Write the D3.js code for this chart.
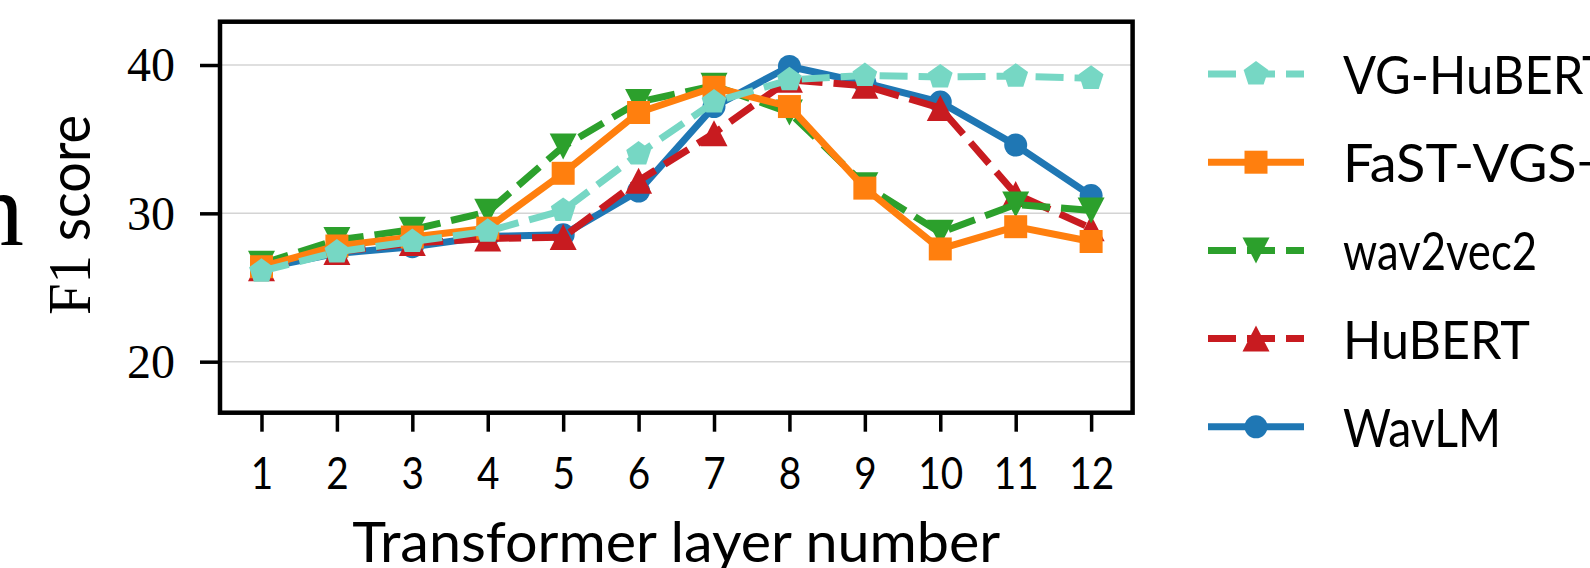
<!DOCTYPE html>
<html>
<head>
<meta charset="utf-8">
<script src="https://cdn.jsdelivr.net/npm/d3@7"></script>
<style>
  html, body { margin: 0; padding: 0; background: #fff; }
  svg { display: block; }
</style>
</head>
<body>
<svg id="chart" width="1590" height="568"></svg>
<script>
// layer-wise F1 scores
var layers = [1, 2, 3, 4, 5, 6, 7, 8, 9, 10, 11, 12];

var vgHubert = [26.1, 27.4, 28.1, 28.8, 30.2, 34.0, 37.5, 39.0, 39.3, 39.2, 39.25, 39.1];
var fastVgs  = [26.4, 27.8, 28.4, 29.0, 32.7, 36.8, 38.5, 37.2, 31.7, 27.6, 29.1, 28.1];
var wav2vec2 = [26.6, 28.2, 28.9, 30.1, 34.5, 37.5, 38.6, 36.8, 31.9, 28.7, 30.6, 30.2];
var hubert   = [26.3, 27.4, 28.0, 28.3, 28.4, 32.2, 35.4, 39.0, 38.6, 37.1, 31.3, 29.0];
var wavlm    = [26.3, 27.3, 27.75, 28.45, 28.55, 31.5, 37.2, 39.9, 38.8, 37.5, 34.6, 31.2];

var yTicks = [20, 30, 40];

// legend order (top to bottom); drawn in reverse so VG-HuBERT ends up on top
var series = [
  { name: "VG-HuBERT", values: vgHubert, color: "#76d7c4", dashed: true,  marker: "pentagon", w: 268 },
  { name: "FaST-VGS+", values: fastVgs,  color: "#ff7f0e", dashed: false, marker: "square",   w: 265 },
  { name: "wav2vec2",  values: wav2vec2, color: "#2ca02c", dashed: true,  marker: "down",     w: 194 },
  { name: "HuBERT",    values: hubert,   color: "#c81b20", dashed: true,  marker: "up",       w: 187 },
  { name: "WavLM",     values: wavlm,    color: "#1f77b4", dashed: false, marker: "circle",   w: 158 }
];

var LEFT = 220, RIGHT = 1132.6, TOP = 21.7, BOTTOM = 412.7;
var LINE_W = 7;
var DASH = "28,11";
var SANS = "Lato, 'Open Sans', sans-serif";
var SERIF = "'Liberation Serif', 'DejaVu Serif', serif";

var svg = d3.select("#chart");

var x = d3.scaleLinear().domain([0.45, 12.55]).range([LEFT, RIGHT]);
var y = d3.scaleLinear().domain([16.56, 42.92]).range([BOTTOM, TOP]);

// marker path centred on its bounding box, like matplotlib
var markerPath = function (kind) {
  var p = d3.path();
  if (kind === "circle") {
    p.arc(0, 0, 11.5, 0, 2 * Math.PI);
  } else if (kind === "square") {
    p.rect(-11.5, -11.5, 23, 23);
  } else if (kind === "up") {
    p.moveTo(0, -13); p.lineTo(13.5, 13); p.lineTo(-13.5, 13); p.closePath();
  } else if (kind === "down") {
    p.moveTo(0, 13); p.lineTo(13.5, -13); p.lineTo(-13.5, -13); p.closePath();
  } else if (kind === "pentagon") {
    for (var k = 0; k < 5; k++) {
      var a = -Math.PI / 2 + k * 2 * Math.PI / 5;
      var px = 13 * Math.cos(a), py = 13 * Math.sin(a);
      if (k === 0) p.moveTo(px, py); else p.lineTo(px, py);
    }
    p.closePath();
  }
  return p.toString();
};

// squeeze a text horizontally (computer modern sans digits are narrower than Lato)
var squeeze = function (sel, k) {
  sel.each(function () {
    var w = this.getComputedTextLength();
    d3.select(this).attr("textLength", w * k).attr("lengthAdjust", "spacingAndGlyphs");
  });
};

// gridlines
svg.append("g")
  .selectAll("line")
  .data(yTicks)
  .enter()
  .append("line")
  .attr("x1", LEFT).attr("x2", RIGHT)
  .attr("y1", function (d) { return y(d); })
  .attr("y2", function (d) { return y(d); })
  .attr("stroke", "#d4d4d4")
  .attr("stroke-width", 1.5);

// lines + markers
var line = d3.line()
  .x(function (d, i) { return x(layers[i]); })
  .y(function (d) { return y(d); });

series.slice().reverse().forEach(function (s) {
  var g = svg.append("g");
  g.append("path")
    .attr("d", line(s.values))
    .attr("fill", "none")
    .attr("stroke", s.color)
    .attr("stroke-width", LINE_W)
    .attr("stroke-linejoin", "round")
    .attr("stroke-dasharray", s.dashed ? DASH : null);
  g.selectAll("path.mk")
    .data(s.values)
    .enter()
    .append("path")
    .attr("class", "mk")
    .attr("d", markerPath(s.marker))
    .attr("transform", function (d, i) { return "translate(" + x(layers[i]) + "," + y(d) + ")"; })
    .attr("fill", s.color);
});

// x axis
var xAxis = d3.axisBottom(x).tickValues(layers).tickSize(19).tickPadding(0).tickFormat(d3.format("d"));
var gx = svg.append("g").attr("transform", "translate(0," + BOTTOM + ")").call(xAxis);
gx.select(".domain").remove();
gx.selectAll(".tick line").attr("stroke", "#000").attr("stroke-width", 3.5);
gx.selectAll(".tick text")
  .attr("y", 76)
  .attr("dy", null)
  .attr("fill", "#000")
  .style("font-family", SANS)
  .style("font-size", "45px")
  .call(squeeze, 0.86);

// y axis
var yAxis = d3.axisLeft(y).tickValues(yTicks).tickSize(20).tickPadding(0);
var gy = svg.append("g").attr("transform", "translate(" + LEFT + ",0)").call(yAxis);
gy.select(".domain").remove();
gy.selectAll(".tick line").attr("stroke", "#000").attr("stroke-width", 3.5);
gy.selectAll(".tick text")
  .attr("x", -45)
  .attr("dy", "0.33em")
  .attr("fill", "#000")
  .style("font-family", SERIF)
  .style("font-size", "48px");

// frame
svg.append("rect")
  .attr("x", LEFT).attr("y", TOP)
  .attr("width", RIGHT - LEFT).attr("height", BOTTOM - TOP)
  .attr("fill", "none")
  .attr("stroke", "#000")
  .attr("stroke-width", 4.5);

// axis labels
svg.append("text")
  .attr("x", (LEFT + RIGHT) / 2)
  .attr("y", 562)
  .attr("text-anchor", "middle")
  .style("font-family", SANS)
  .style("font-size", "56px")
  .attr("textLength", 648)
  .attr("lengthAdjust", "spacingAndGlyphs")
  .text("Transformer layer number");

var yl = svg.append("text")
  .attr("transform", "translate(90,215) rotate(-90)")
  .attr("text-anchor", "middle")
  .attr("textLength", 200)
  .attr("lengthAdjust", "spacingAndGlyphs");
yl.append("tspan").style("font-family", SERIF).style("font-size", "62px").text("F1");
yl.append("tspan").style("font-family", SANS).style("font-size", "59px").text(" score");

// clipped leftover of the neighbouring label
svg.append("text")
  .attr("x", 24).attr("y", 245)
  .attr("text-anchor", "end")
  .style("font-family", SERIF)
  .style("font-size", "106px")
  .style("font-weight", 300)
  .text("n");

// legend
var leg = svg.append("g");
series.forEach(function (s, i) {
  var ly = 74 + i * 88.2;
  leg.append("line")
    .attr("x1", 1208).attr("x2", 1304)
    .attr("y1", ly).attr("y2", ly)
    .attr("stroke", s.color)
    .attr("stroke-width", LINE_W)
    .attr("stroke-dasharray", s.dashed ? DASH : null);
  leg.append("path")
    .attr("d", markerPath(s.marker))
    .attr("transform", "translate(1256," + ly + ")")
    .attr("fill", s.color);
  leg.append("text")
    .attr("x", 1343).attr("y", ly + 20)
    .style("font-family", SANS)
    .style("font-size", "53px")
    .attr("textLength", s.w)
    .attr("lengthAdjust", "spacingAndGlyphs")
    .text(s.name);
});
</script>
</body>
</html>
